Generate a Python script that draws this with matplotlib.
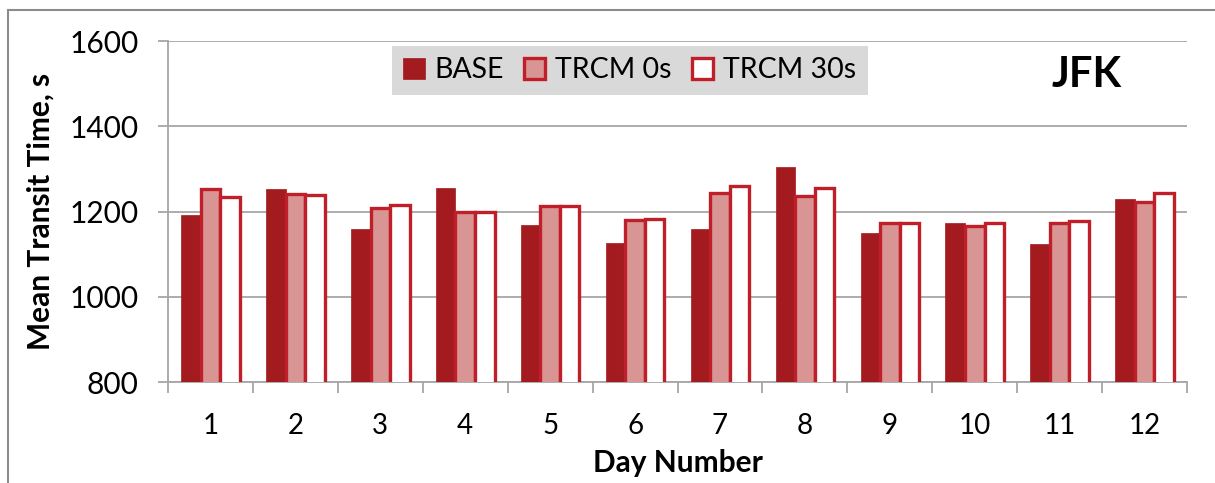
import numpy as np
import matplotlib.pyplot as plt
from matplotlib.patches import Patch, Rectangle

plt.rcParams['font.family'] = ['Lato', 'DejaVu Sans']

days = ['1', '2', '3', '4', '5', '6', '7', '8', '9', '10', '11', '12']
base = [1191, 1252, 1160, 1255, 1168, 1127, 1160, 1304, 1150, 1173, 1124, 1230]
trcm0 = [1252, 1241, 1209, 1198, 1212, 1180, 1244, 1236, 1174, 1165, 1174, 1222]
trcm30 = [1234, 1240, 1215, 1198, 1214, 1183, 1260, 1256, 1174, 1172, 1177, 1243]

dark = '#A31A1F'
edge = '#C01F2A'
pink = '#D99594'
grey = '#A6A6A6'

fig = plt.figure(figsize=(12.15, 4.83), dpi=100)
ax = fig.add_axes([0.1383, 0.209, 0.977 - 0.1383, 0.915 - 0.209])

x = np.arange(len(days))
w = 0.23
ax.bar(x - w, base, w, color=dark, edgecolor=dark, linewidth=0.5, zorder=3)
ax.bar(x, trcm0, w, color=pink, edgecolor=edge, linewidth=2.4, zorder=3)
ax.bar(x + w, trcm30, w, color='white', edgecolor=edge, linewidth=2.4, zorder=3)

ax.set_ylim(800, 1600)
ax.set_xlim(-0.5, 11.5)
ax.set_yticks([800, 1000, 1200, 1400, 1600])
ax.yaxis.grid(True, color=grey, linewidth=1.3, zorder=0)
ax.set_axisbelow(True)

ax.set_xticks(x)
ax.set_xticklabels(days)
ax.set_xticks(np.arange(-0.5, 12, 1), minor=True)
ax.tick_params(axis='x', which='major', length=0, pad=22, labelsize=20)
ax.tick_params(axis='x', which='minor', length=8, color=grey, width=1.3, direction='out')
ax.tick_params(axis='y', length=7, color=grey, width=1.3, pad=14, labelsize=21.5)

for s in ['top', 'right']:
    ax.spines[s].set_visible(False)
for s in ['left', 'bottom']:
    ax.spines[s].set_color(grey)
    ax.spines[s].set_linewidth(1.3)

ax.set_ylabel('Mean Transit Time, s', fontsize=21.5, fontweight='bold')
ax.yaxis.set_label_coords(-0.1246, 0.5)
ax.yaxis.label.set_va('center')
ax.set_xlabel('Day Number', fontsize=21.5, fontweight='bold')
ax.xaxis.set_label_coords(0.5, -0.2375)
ax.xaxis.label.set_va('center')

ax.text(0.901, 0.9, 'JFK', transform=ax.transAxes, fontsize=30,
        fontweight='bold', ha='center', va='center')

handles = [Patch(facecolor=dark, edgecolor=dark, linewidth=0.5),
           Patch(facecolor=pink, edgecolor=edge, linewidth=2.4),
           Patch(facecolor='white', edgecolor=edge, linewidth=2.4)]
leg = ax.legend(handles, ['BASE', 'TRCM 0s', 'TRCM 30s'], ncol=3,
                loc='center', bbox_to_anchor=(0.453, 0.914),
                fontsize=20.5, frameon=True, fancybox=False,
                handlelength=0.75, handleheight=0.75, handletextpad=0.35,
                columnspacing=0.7, borderpad=0.4, borderaxespad=0)
leg.get_frame().set_facecolor('#D9D9D9')
leg.get_frame().set_edgecolor('none')
leg.get_frame().set_alpha(1)

fig.patches.append(Rectangle((8 / 1215, -0.05), 1.1, 1 - 10 / 483 + 0.05,
                             transform=fig.transFigure, fill=False,
                             edgecolor='#8C8C8C', linewidth=1.5))

fig.savefig('out.png', dpi=100)
